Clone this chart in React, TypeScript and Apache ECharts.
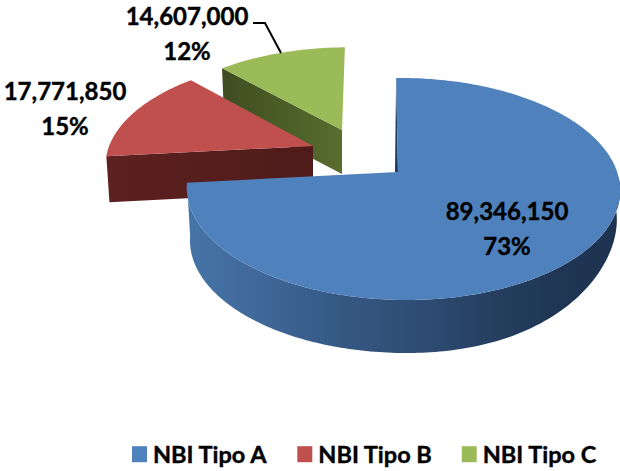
import React, { useEffect, useRef } from "react";
import * as echarts from "echarts";

const categories = ["NBI Tipo A", "NBI Tipo B", "NBI Tipo C"];
const values = [89346150, 17771850, 14607000];
const topColors = ["#4f81bd", "#c0504d", "#9bbb59"];

const total = values.reduce((a, b) => a + b, 0);
const FONT = "Lato";

// view of the tilted disc
const K = 0.153, M = 0.0235, RX = 214, RY = 108.4;

type Look = {
  apex: [number, number]; sx: number; sy: number; shear: number; depth: number;
  labelAt: [number, number]; gap: number; wall: any[];
};
const looks: Look[] = [
  { apex: [398, 172], sx: 1, sy: 1, shear: 0.02, depth: 53, labelAt: [507, 210], gap: 35,
    wall: [[0, "#4674a8"], [0.15, "#41699a"], [0.4, "#33557f"], [0.55, "#2e4c73"], [0.7, "#263f60"], [0.85, "#1f3654"], [1, "#1e3350"]] },
  { apex: [313, 146], sx: 0.975, sy: 0.94, shear: -0.07, depth: 46, labelAt: [65, 90], gap: 35,
    wall: [[0, "#5c2120"], [1, "#4f1b1a"]] },
  { apex: [342, 130], sx: 0.94, sy: 0.88, shear: -0.035, depth: 44, labelAt: [187, 15], gap: 35,
    wall: [[0, "#3e4d20"], [1, "#586d2e"]] },
];
const leader: [number, number][] = [[253, 23], [265, 23], [281, 53]];

const rad = (d: number) => (d * Math.PI) / 180;

function rim(look: Look, deg: number): [number, number] {
  const u = Math.sin(rad(deg)), v = Math.cos(rad(deg));
  const w = 1 + K * v - M * u;
  const X = ((RX * u) / w) * look.sx, Y = ((-RY * v) / w) * look.sy;
  return [look.apex[0] + X + look.shear * Y, look.apex[1] + Y];
}
function lower(look: Look, p: [number, number], deg: number): [number, number] {
  const u = Math.sin(rad(deg));
  const drop = look.depth - 25 * Math.pow(Math.max(0, u), 3);
  return [look.apex[0] + (p[0] - look.apex[0]) * 0.985, p[1] + drop];
}
function arc(look: Look, a: number, b: number): number[] {
  const out: number[] = [];
  for (let d = a; d < b; d += 1) out.push(d);
  out.push(b);
  return out;
}
const grad = (stops: any[]) =>
  new echarts.graphic.LinearGradient(0, 0, 1, 0, stops.map(([offset, color]) => ({ offset, color })));

function sliceItem(idx: number) {
  return (_p: any, api: any) => {
    const value = api.value(0) as number;
    const before = values.slice(0, idx).reduce((a, b) => a + b, 0);
    const a0 = (before / total) * 360, a1 = ((before + value) / total) * 360;
    const look = looks[idx];
    const children: any[] = [];
    const top = arc(look, a0, a1).map((d) => rim(look, d));
    const face = [look.apex, ...top];
    if (idx === 0) {
      // outer wall of the big slice
      const ds = arc(look, 93, a1);
      const upper = ds.map((d) => rim(look, d));
      const low = ds.map((d, i) => lower(look, upper[i], d));
      children.push({ type: "polygon", shape: { points: [...upper, ...low.reverse()] },
        style: { fill: grad(look.wall) } });
      const t = rim(look, a0);
      children.push({ type: "polygon", shape: { points: [t, look.apex, [look.apex[0] - 3, look.apex[1]]] },
        style: { fill: "#1f3a5c" } });
    } else {
      // cut wall facing the viewer
      const c = rim(look, a0);
      children.push({ type: "polygon",
        shape: { points: [c, look.apex, lower(look, look.apex, 0), lower(look, c, a0)] },
        style: { fill: grad(look.wall) } });
    }
    children.push({ type: "polygon", shape: { points: face }, style: { fill: topColors[idx] } });
    if (idx === 2) {
      children.push({ type: "polyline", shape: { points: leader },
        style: { stroke: "#000", lineWidth: 2, fill: "none" } });
    }
    const lbl = { fill: "#000", stroke: "#000", lineWidth: 0.4, fontFamily: FONT, fontWeight: "bold", fontSize: 24, align: "center", verticalAlign: "middle" };
    children.push({ type: "text", style: { ...lbl, text: value.toLocaleString("en-US"), x: look.labelAt[0], y: look.labelAt[1] } });
    children.push({ type: "text", style: { ...lbl, text: Math.round((value / total) * 100) + "%", x: look.labelAt[0], y: look.labelAt[1] + look.gap } });
    return { type: "group", children };
  };
}

export default function App() {
  const ref = useRef<HTMLDivElement>(null);
  useEffect(() => {
    document.body.style.margin = "0";
    const chart = echarts.init(ref.current!, undefined, { renderer: "svg" });
    chart.setOption({
      animation: false,
      backgroundColor: "#ffffff",
      legend: {
        data: categories, left: 127, top: 437, icon: "rect", itemWidth: 15, itemHeight: 16, itemGap: 29,
        textStyle: { fontFamily: FONT, fontWeight: "bold", fontSize: 23.5, color: "#000", padding: [0, 0, 0, 1],
          textBorderColor: "#000", textBorderWidth: 0.4 },
        selectedMode: false,
      },
      series: categories.map((name, i) => ({
        type: "custom", name, coordinateSystem: "none", z: 3 - i, silent: true,
        itemStyle: { color: topColors[i] },
        data: [[values[i]]],
        renderItem: sliceItem(i),
      })),
    });
    return () => chart.dispose();
  }, []);
  return <div ref={ref} style={{ width: 620, height: 471 }} />;
}
